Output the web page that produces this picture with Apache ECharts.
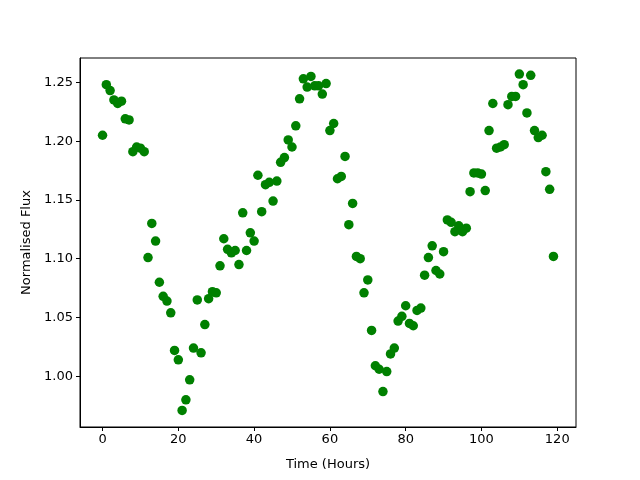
<!DOCTYPE html>
<html>
<head>
<meta charset="utf-8">
<script src="https://cdn.jsdelivr.net/npm/echarts@6/dist/echarts.min.js"></script>
<style>
  html, body { margin: 0; padding: 0; background: #fff; }
  #chart { width: 640px; height: 480px; }
</style>
</head>
<body>
<div id="chart"></div>
<script>
// hours 0..119, one reading each
var hours = [];
for (var h = 0; h < 120; h++) hours.push(h);

var flux = [
  1.205, 1.248, 1.243, 1.235, 1.232, 1.234, 1.219, 1.218, 1.191, 1.195,
  1.194, 1.191, 1.101, 1.130, 1.115, 1.080, 1.068, 1.064, 1.054, 1.022,
  1.014, 0.971, 0.980, 0.997, 1.024, 1.065, 1.020, 1.044, 1.066, 1.072,
  1.071, 1.094, 1.117, 1.108, 1.105, 1.107, 1.095, 1.139, 1.107, 1.122,
  1.115, 1.171, 1.140, 1.163, 1.165, 1.149, 1.166, 1.182, 1.186, 1.201,
  1.195, 1.213, 1.236, 1.253, 1.246, 1.255, 1.247, 1.247, 1.240, 1.249,
  1.209, 1.215, 1.168, 1.170, 1.187, 1.129, 1.147, 1.102, 1.100, 1.071,
  1.082, 1.039, 1.009, 1.006, 0.987, 1.004, 1.019, 1.024, 1.047, 1.051,
  1.060, 1.045, 1.043, 1.056, 1.058, 1.086, 1.101, 1.111, 1.090, 1.087,
  1.106, 1.133, 1.131, 1.123, 1.128, 1.123, 1.126, 1.157, 1.173, 1.173,
  1.172, 1.158, 1.209, 1.232, 1.194, 1.195, 1.197, 1.231, 1.238, 1.238,
  1.257, 1.248, 1.224, 1.256, 1.209, 1.203, 1.205, 1.174, 1.159, 1.102
];

var xTicks = [0, 20, 40, 60, 80, 100, 120];
var yTicks = [1.00, 1.05, 1.10, 1.15, 1.20, 1.25];

var points = hours.map(function (h, i) { return [h, flux[i]]; });

var font = 'DejaVu Sans';
var chart = echarts.init(document.getElementById('chart'));

chart.setOption({
  animation: false,
  backgroundColor: '#fff',
  grid: {
    left: 80, right: 64, top: 58, bottom: 53,
    show: true, borderColor: '#000', borderWidth: 1
  },
  xAxis: {
    type: 'value',
    min: -5.95, max: 124.95,
    name: 'Time (Hours)',
    nameLocation: 'middle',
    nameGap: 31,
    nameTextStyle: { fontFamily: font, fontSize: 13, color: '#000' },
    splitLine: { show: false },
    axisLine: { show: true, onZero: false, lineStyle: { color: '#000' } },
    axisTick: { show: true, length: 4, lineStyle: { color: '#000' }, customValues: xTicks },
    axisLabel: { fontFamily: font, fontSize: 13, color: '#000', margin: 6, customValues: xTicks }
  },
  yAxis: {
    type: 'value',
    min: 0.9569, max: 1.2707,
    name: 'Normalised Flux',
    nameLocation: 'middle',
    nameGap: 47,
    nameTextStyle: { fontFamily: font, fontSize: 13, color: '#000' },
    splitLine: { show: false },
    axisLine: { show: true, onZero: false, lineStyle: { color: '#000' } },
    axisTick: { show: true, length: 4, lineStyle: { color: '#000' }, customValues: yTicks },
    axisLabel: {
      fontFamily: font, fontSize: 13, color: '#000', margin: 7,
      customValues: yTicks,
      formatter: function (v) { return v.toFixed(2); }
    }
  },
  series: [{
    type: 'scatter',
    data: points,
    symbol: 'circle',
    symbolSize: 9.5,
    itemStyle: { color: '#008000', opacity: 1 }
  }]
});
</script>
</body>
</html>
